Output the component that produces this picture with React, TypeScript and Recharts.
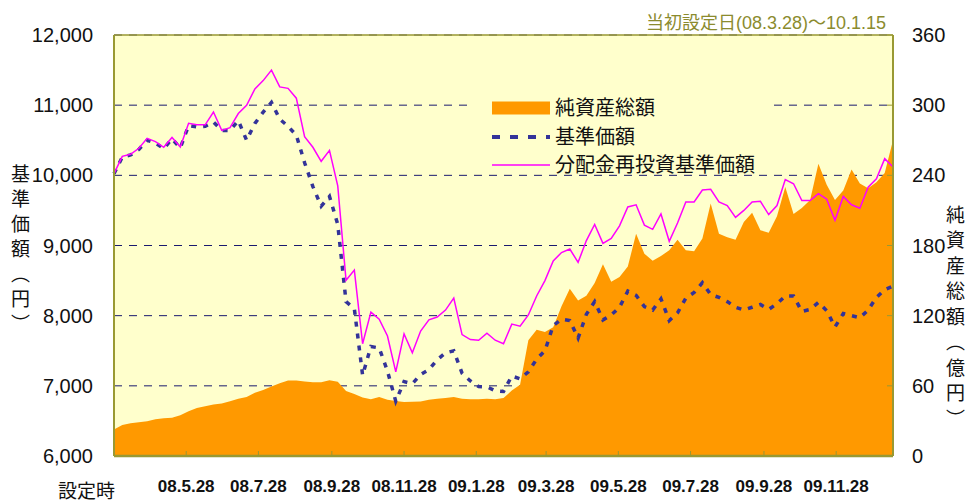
import React from "react";
import {
  ComposedChart,
  Area,
  Line,
  XAxis,
  YAxis,
  CartesianGrid,
  ReferenceLine,
  Legend,
} from "recharts";

// one point per week, starting at the launch date 08.3.28
const STEP_DAYS = 7;

// 純資産総額 (億円)
const assets = [
  22.6, 26.5, 28, 28.8, 29.8, 31.5, 32.2, 32.8, 34.8, 38.3,
  41, 42.5, 44, 45, 46.8, 49, 50.5, 54, 56.5, 59.5,
  62.3, 64.5, 64.5, 63.8, 63, 63, 64.7, 63.5, 55.5, 53,
  50, 48.5, 50.4, 48, 47, 46.2, 46.4, 46.5, 48, 49,
  49.5, 50.5, 49, 48.5, 48.5, 49, 48.5, 49.5, 56, 61,
  99, 108, 106, 110, 128, 143, 133, 137, 148, 164,
  149, 153, 162, 190, 173, 167, 171, 176, 185, 176,
  175, 186, 216, 190, 187, 185, 200, 208, 193, 191,
  205, 230, 207, 212, 219, 250, 232, 219, 227, 245,
  233, 229, 234, 242, 270,
];

// 基準価額 (円)
const nav = [
  10024, 10261, 10290, 10370, 10500, 10460, 10380, 10520, 10390, 10710,
  10690, 10700, 10760, 10640, 10640, 10780, 10500, 10740, 10900, 11040,
  10800, 10700, 10570, 10180, 9840, 9560, 9700, 9300, 8200, 8100,
  7150, 7560, 7540, 7210, 6780, 7060, 7030, 7160, 7230, 7370,
  7470, 7500, 7180, 7070, 6990, 6985, 6930, 6920, 7140, 7100,
  7200, 7380, 7500, 7860, 7950, 7930, 7680, 8020, 8200, 7940,
  8010, 8120, 8350, 8290, 8130, 8080, 8240, 7930, 8040, 8250,
  8330, 8470, 8300, 8260, 8200, 8120, 8080, 8120, 8160, 8090,
  8170, 8280, 8280, 8060, 8090, 8190, 8070, 7840, 8030, 8000,
  7970, 8080, 8260, 8370, 8420,
];

// 分配金再投資基準価額 (円)
const reinvested = [
  10024, 10270, 10300, 10385, 10527, 10480, 10400, 10540, 10403, 10741,
  10720, 10720, 10902, 10640, 10680, 10880, 10998, 11230, 11350, 11500,
  11260, 11240, 11100, 10550, 10400, 10200, 10356, 9850, 8504, 8650,
  7600, 8050, 7950, 7710, 7200, 7740, 7470, 7780, 7940, 7980,
  8080, 8250, 7730, 7660, 7650, 7750, 7650, 7600, 7880, 7850,
  8010, 8280, 8500, 8780, 8900, 8950, 8760, 9070, 9300, 9030,
  9100, 9280, 9550, 9580, 9290, 9230, 9450, 9060, 9320, 9620,
  9620, 9790, 9800, 9620, 9570, 9400, 9500, 9620, 9630, 9440,
  9570, 9940, 9880, 9640, 9640, 9740, 9660, 9360, 9700, 9580,
  9530, 9830, 9950, 10238, 10118,
];

// days since 08.3.28
const tickDays = [61, 122, 184, 245, 306, 365, 426, 487, 549, 610];
const tickLabels = [
  "08.5.28",
  "08.7.28",
  "08.9.28",
  "08.11.28",
  "09.1.28",
  "09.3.28",
  "09.5.28",
  "09.7.28",
  "09.9.28",
  "09.11.28",
];
const navTicks = [6000, 7000, 8000, 9000, 10000, 11000, 12000];
const assetTicks = [0, 60, 120, 180, 240, 300, 360];

const data = nav.map((v, i) => ({
  day: i * STEP_DAYS,
  nav: v,
  reinvested: reinvested[i],
  assets: assets[i],
}));

const OLIVE = "#999933";
const LATIN = "'Liberation Sans', Arial, sans-serif";
const CJK = "'Liberation Sans', 'Noto Sans CJK JP', sans-serif";

function ChartLegend() {
  const row: React.CSSProperties = {
    display: "flex",
    alignItems: "center",
    height: 28.5,
  };
  const label: React.CSSProperties = {
    marginLeft: 5,
    fontSize: 20,
    lineHeight: "20px",
    color: "#111",
    fontFamily: CJK,
    whiteSpace: "nowrap",
  };
  return (
    <div
      style={{
        width: 303,
        height: 81,
        paddingTop: 2,
        paddingLeft: 22,
        boxSizing: "border-box",
        background: "#ffffcc",
      }}
    >
      <div style={row}>
        <svg width={58} height={16}>
          <rect x={0} y={1.5} width={58} height={13} fill="#ff9900" />
        </svg>
        <span style={label}>純資産総額</span>
      </div>
      <div style={row}>
        <svg width={58} height={16}>
          <line x1={0} y1={8} x2={58} y2={8} stroke="#333399" strokeWidth={4} strokeDasharray="8 10" />
        </svg>
        <span style={label}>基準価額</span>
      </div>
      <div style={row}>
        <svg width={58} height={16}>
          <line x1={0} y1={8} x2={58} y2={8} stroke="#ff00ff" strokeWidth={1.5} />
        </svg>
        <span style={label}>分配金再投資基準価額</span>
      </div>
    </div>
  );
}

export default function App() {
  const label = (day: number) => tickLabels[tickDays.indexOf(day)] ?? "";
  return (
    <div
      style={{
        position: "absolute",
        left: 0,
        top: 0,
        width: 969,
        height: 502,
        background: "#fff",
        overflow: "hidden",
      }}
    >
      <ComposedChart
        width={969}
        height={502}
        data={data}
        margin={{ top: 35, right: 0, bottom: 0, left: 0 }}
      >
        <CartesianGrid
          yAxisId="left"
          vertical={false}
          stroke="#1a1a6e"
          strokeDasharray="8 7"
          fill="#ffffcc"
        />
        <XAxis
          type="number"
          dataKey="day"
          domain={[0, 658]}
          ticks={tickDays}
          interval={0}
          tickFormatter={label}
          height={46}
          tickSize={-5}
          tickMargin={29}
          axisLine={{ stroke: OLIVE, strokeWidth: 2.5 }}
          tickLine={{ stroke: OLIVE }}
          tick={{ fill: "#111", fontSize: 17, fontWeight: 700, fontFamily: LATIN }}
        />
        <YAxis
          yAxisId="left"
          domain={[6000, 12000]}
          ticks={navTicks}
          interval={0}
          width={114}
          tickSize={0}
          tickMargin={21}
          tickFormatter={(v: number) => v.toLocaleString("en-US")}
          axisLine={{ stroke: OLIVE, strokeWidth: 2 }}
          tickLine={false}
          tick={{ fill: "#111", fontSize: 20, fontFamily: LATIN }}
        />
        <YAxis
          yAxisId="right"
          orientation="right"
          domain={[0, 360]}
          ticks={assetTicks}
          interval={0}
          width={76}
          tickSize={-6}
          tickMargin={25}
          axisLine={{ stroke: OLIVE, strokeWidth: 2 }}
          tickLine={{ stroke: OLIVE }}
          tick={{ fill: "#111", fontSize: 20, fontFamily: LATIN, textAnchor: "start" }}
        />
        <ReferenceLine yAxisId="left" y={12000} stroke={OLIVE} strokeWidth={1.5} />
        <Area
          yAxisId="right"
          type="linear"
          dataKey="assets"
          fill="#ff9900"
          fillOpacity={1}
          stroke="none"
          isAnimationActive={false}
        />
        <Line
          yAxisId="left"
          type="linear"
          dataKey="nav"
          stroke="#333399"
          strokeWidth={3.5}
          strokeDasharray="5 7"
          dot={false}
          isAnimationActive={false}
        />
        <Line
          yAxisId="left"
          type="linear"
          dataKey="reinvested"
          stroke="#ff00ff"
          strokeWidth={1.5}
          dot={false}
          isAnimationActive={false}
        />
        <Legend
          layout="horizontal"
          verticalAlign="middle"
          align="center"
          content={() => <ChartLegend />}
          wrapperStyle={{ left: 470, top: 92, width: 303, height: 81 }}
        />
      </ComposedChart>

      <div
        style={{
          position: "absolute",
          right: 83,
          top: 13,
          fontSize: 18,
          lineHeight: "20px",
          color: "#8b8b2e",
          fontFamily: CJK,
          whiteSpace: "nowrap",
        }}
      >
        当初設定日(08.3.28)～10.1.15
      </div>
      <div
        style={{
          position: "absolute",
          left: 11,
          top: 164,
          writingMode: "vertical-rl",
          fontSize: 19,
          letterSpacing: 6,
          lineHeight: "19px",
          color: "#111",
          fontFamily: "'Noto Sans CJK JP', sans-serif",
        }}
      >
        基準価額（円）
      </div>
      <div
        style={{
          position: "absolute",
          left: 946,
          top: 205,
          writingMode: "vertical-rl",
          fontSize: 19,
          letterSpacing: 6.5,
          lineHeight: "19px",
          color: "#111",
          fontFamily: "'Noto Sans CJK JP', sans-serif",
        }}
      >
        純資産総額（億円）
      </div>
      <div
        style={{
          position: "absolute",
          left: 58,
          top: 480,
          fontSize: 19,
          lineHeight: "20px",
          color: "#111",
          fontFamily: "'Noto Sans CJK JP', sans-serif",
        }}
      >
        設定時
      </div>
    </div>
  );
}
